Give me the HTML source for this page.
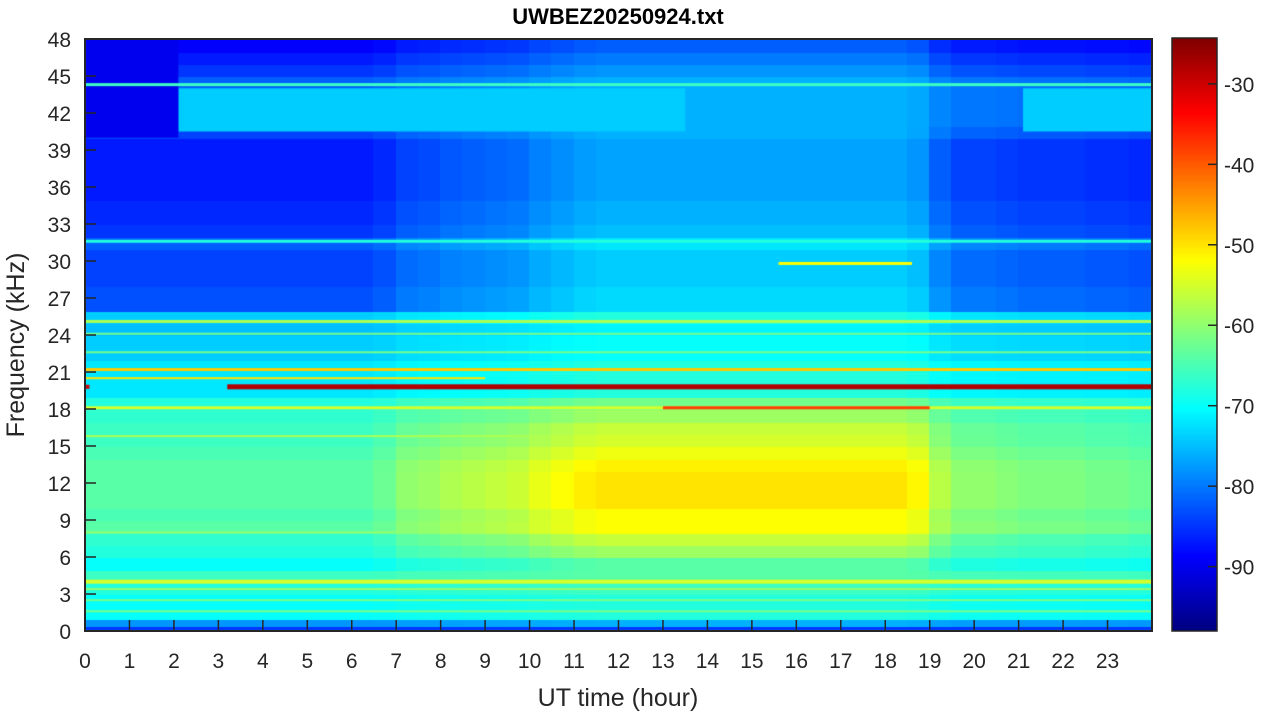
<!DOCTYPE html>
<html><head><meta charset="utf-8">
<style>
body{margin:0;background:#fff;width:1264px;height:715px;overflow:hidden;font-family:"Liberation Sans",sans-serif;}
#wrap{position:relative;width:1264px;height:715px;}
</style></head>
<body>
<div id="wrap">
<canvas id="hm" width="1067" height="592" style="position:absolute;left:85px;top:39px"></canvas>
<canvas id="cb" width="45" height="593" style="position:absolute;left:1172px;top:38px"></canvas>
<svg id="ax" width="1264" height="715" style="position:absolute;left:0;top:0"></svg>
</div>
<script>
// ---- data ----
const freqBinsKHz = 48;
const timeBins = 48;
const baseNight = [-78,-70,-70,-68,-66,-70,-68,-67,-64,-65,-64,-64,-64,-64,-65,-66,-66,-67,-68,-72,-72,-72,-74,-74,-75,-74,-83,-83,-84,-84,-84,-82,-85,-86,-86,-87,-87,-87,-87,-87,-84,-82,-82,-82,-82,-85,-87,-89];
const dayBoost  = [2,2,2,2,2,6,9,11,12,13,14,14,14,13,12,11,10,8,6,4,4,4,4,4,4,6,10,10,10,10,10,10,10,10,10,10,10,10,10,10,8,6,6,6,6,7,7,7];
const activity = [0,0,0,0,0,0,0,0,0,0,0,0,0,0.1,0.3,0.35,0.45,0.5,0.55,0.6,0.75,0.85,0.95,1,1,1,1,1,1,1,1,1,1,1,1,1,1,0.9,0.5,0.3,0.3,0.25,0.2,0.2,0.2,0.15,0.15,0.1];
// horizontal lines: [freqKHz, t0, t1, dB, thickness px]
const lines = [[19.8,3.2,24,-28,5],[19.8,0,0.1,-30,4],[18.1,0,24,-55,3],[18.1,13,19,-38,3],[25.1,0,24,-58,3],[21.2,0,24,-48,3],[20.5,0,9,-50,2],[22.6,0,24,-62,2],[24.1,0,24,-62,2],[44.3,0,24,-66,3],[31.6,0,24,-68,3],[4,0,24,-55,4],[3.4,0,24,-60,2],[2.5,0,24,-62,2],[1.6,0,24,-62,2],[8,0,7,-60,2],[15.8,0,10,-58,2],[29.8,15.6,18.6,-52,3],[0.2,0,24,-85,3]];
// band patches: [f0,f1,t0,t1,dB]
const patches = [[40.5,44,2.1,13.5,-74],[40.5,44,21.1,24,-74],[40,48,0,2.1,-90]];
const xTicks=[0,1,2,3,4,5,6,7,8,9,10,11,12,13,14,15,16,17,18,19,20,21,22,23];
const yTicks=[0,3,6,9,12,15,18,21,24,27,30,33,36,39,42,45,48];
const cTicks=[-30,-40,-50,-60,-70,-80,-90];
const cMin=-98, cMax=-24.3;
// ---- scales ----
const X0=85,X1=1152,Y0=631,Y1=39;
const xs=t=>X0+(X1-X0)*t/24, ys=f=>Y0-(Y0-Y1)*f/48;
function jet(v){let x=(v-cMin)/(cMax-cMin);x=Math.max(0,Math.min(1,x));
 const c=t=>Math.round(255*Math.max(0,Math.min(1,1.5-Math.abs(4*x-t))));
 return `rgb(${c(3)},${c(2)},${c(1)})`;}
const hm=document.getElementById('hm').getContext('2d');
for(let ti=0;ti<timeBins;ti++){for(let fi=0;fi<freqBinsKHz;fi++){
 const v=baseNight[fi]+dayBoost[fi]*activity[ti];
 hm.fillStyle=jet(v);
 const x0=xs(ti*24/timeBins)-X0,x1=xs((ti+1)*24/timeBins)-X0;
 const y0=ys(fi+1)-Y1,y1=ys(fi)-Y1;
 hm.fillRect(Math.floor(x0),Math.floor(y0),Math.ceil(x1-x0)+1,Math.ceil(y1-y0)+1);}}
patches.forEach(p=>{hm.fillStyle=jet(p[4]);hm.fillRect(xs(p[2])-X0,ys(p[1])-Y1,xs(p[3])-xs(p[2]),ys(p[0])-ys(p[1]));});
lines.forEach(l=>{hm.fillStyle=jet(l[3]);hm.fillRect(xs(l[1])-X0,ys(l[0])-Y1-l[4]/2,xs(l[2])-xs(l[1]),l[4]);});
const cb=document.getElementById('cb').getContext('2d');
for(let y=0;y<593;y++){cb.fillStyle=jet(cMax-(cMax-cMin)*y/592);cb.fillRect(0,y,45,1);}
// ---- axes ----
const svg=document.getElementById('ax');const NS='http://www.w3.org/2000/svg';
function el(tag,attrs,txt){const e=document.createElementNS(NS,tag);for(const k in attrs)e.setAttribute(k,attrs[k]);if(txt!==undefined)e.textContent=txt;svg.appendChild(e);return e;}
let r=el('rect',{x:X0,y:Y1,width:X1-X0,height:Y0-Y1,fill:'none',stroke:'#262626','stroke-width':2});

xTicks.forEach(t=>{const x=xs(t);
 let k=el('line',{x1:x,x2:x,y1:Y0,y2:Y0-11,stroke:'#262626','stroke-width':1.5});
 let tx=el('text',{x:x,y:Y0+37,'text-anchor':'middle','font-size':21,fill:'#262626'},t);});
yTicks.forEach(f=>{const y=ys(f);
 let k=el('line',{x1:X0,x2:X0+11,y1:y,y2:y,stroke:'#262626','stroke-width':1.5});
 let tx=el('text',{x:X0-14,y:y+8,'text-anchor':'end','font-size':21,fill:'#262626'},f);});
let cr=el('rect',{x:1172,y:38,width:45,height:593,fill:'none',stroke:'#262626','stroke-width':1.5});
cTicks.forEach(c=>{const y=38+593*(cMax-c)/(cMax-cMin);
 let k=el('line',{x1:1208,x2:1217,y1:y,y2:y,stroke:'#262626','stroke-width':1.5});
 let tx=el('text',{x:1224,y:y+8,'font-size':21,fill:'#262626'},c);});
let tt=el('text',{x:618,y:24,'text-anchor':'middle','font-size':22,'font-weight':'bold',fill:'#000'},'UWBEZ20250924.txt');
let xl=el('text',{x:618,y:706,'text-anchor':'middle','font-size':25,fill:'#262626'},'UT time (hour)');
let yl=el('text',{x:24,y:345,'text-anchor':'middle','font-size':25,fill:'#262626',transform:'rotate(-90 24 345)'},'Frequency (kHz)');
</script>
</body></html>
